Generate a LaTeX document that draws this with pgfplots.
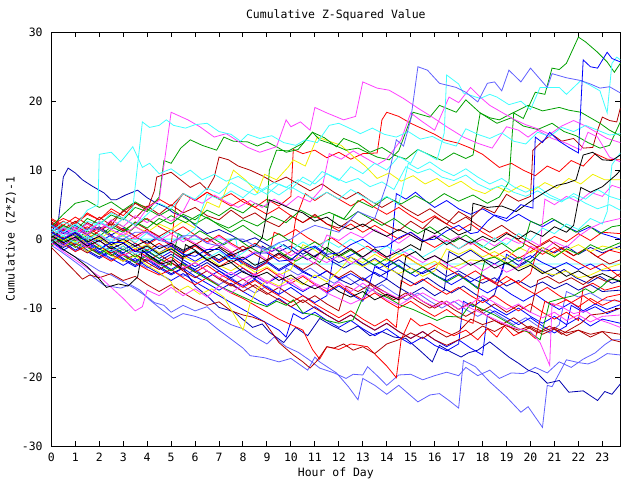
\documentclass[border=0pt]{standalone}
\usepackage{fontspec}
\setmainfont{DejaVu Sans Mono}
\usepackage{pgfplots}
\pgfplotsset{compat=1.18}
\definecolor{gR}{HTML}{FF0000}
\definecolor{gG}{HTML}{00A000}
\definecolor{gB}{HTML}{0000FF}
\definecolor{gM}{HTML}{FF40FF}
\definecolor{gC}{HTML}{40FFFF}
\definecolor{gD}{HTML}{B00000}
\definecolor{gY}{HTML}{F0F000}
\definecolor{gK}{HTML}{000000}
\definecolor{gN}{HTML}{0000B0}
\definecolor{gS}{HTML}{6060FF}
\newcommand{\gfont}{\fontsize{8.6}{10}\selectfont}
\begin{document}
\begin{tikzpicture}
\useasboundingbox (-38.5pt,-25.5pt) rectangle (441.5pt,334.5pt);
\begin{axis}[
  at={(0pt,0pt)}, anchor=south west,
  scale only axis, width=426.75pt, height=310.3pt,
  xmin=0, xmax=23.75, ymin=-30, ymax=30,
  xtick={0,1,...,23}, ytick={-30,-20,-10,0,10,20,30},
  yticklabels={-30,-20,-10,0,10,20,30},
  xtick pos=both, ytick pos=both,
  xticklabel pos=lower, yticklabel pos=left,
  tick align=inside, major tick length=3.75pt,
  axis line style={line width=0.75pt}, every tick/.style={black, line width=0.75pt},
  /pgf/number format/assume math mode=true,
  tick label style={font=\gfont},
  xticklabel style={anchor=center, yshift=-8.25pt},
  yticklabel style={anchor=east, xshift=-3pt},
  every axis title/.style={at={(0.5,1)}, anchor=center, yshift=12.6pt, font=\gfont},
  title={Cumulative Z-Squared Value},
  xlabel={Hour of Day},
  xlabel style={font=\gfont, at={(axis description cs:0.5,0)}, anchor=center, yshift=-20.3pt},
  ylabel={Cumulative (Z*Z)-1},
  every axis y label/.style={at={(axis description cs:-0.0708,0.5)}, anchor=center, rotate=90, font=\gfont},
  every axis plot/.append style={line width=0.6pt, mark=none},
]
% flat cyan
\addplot[gC] coordinates {(0,0) (7.7,0) (7.9,-3.6) (23.75,-3.6)};
% slate low SL1
\addplot[gS] coordinates {(0,-0.9) (0.4,-1.8) (0.8,-2.8) (1.3,-4.1) (1.75,-5.5) (2.2,-6.7) (2.9,-7.1) (3.3,-6.6) (3.7,-7.4) (4.1,-8.8) (4.6,-10.2) (5.1,-11.5) (5.5,-10.8) (6,-11.2) (6.5,-11.8) (7,-13.2) (7.5,-14.5) (8,-15.8) (8.3,-16.9) (8.9,-17.2) (9.5,-17.8) (10,-17.3) (10.7,-19) (11,-17.1) (11.2,-17.8) (11.9,-19.4) (12.4,-21.4) (12.8,-23.3) (13,-20.2) (13.5,-21.2) (14,-22.5) (14.5,-21.2) (15.3,-23.6) (15.8,-22.6) (16.2,-22.4) (16.6,-23.4) (17,-24.5) (17.2,-17.6) (17.7,-18.5) (18.3,-20.7) (19,-22.9) (19.6,-25.1) (19.9,-24.3) (20.5,-27.3) (20.7,-21.2) (20.9,-21.4) (21.5,-17.5) (22,-17.9) (22.4,-18.1) (22.7,-17.7) (23.2,-16.6) (23.75,-16.8)};
% slate SL2
\addplot[gS] coordinates {(0,-0.3) (0.5,-1.5) (1,-2.6) (1.5,-3.5) (2,-4.6) (2.5,-5.2) (3,-6.2) (3.5,-7.2) (4,-8.4) (4.3,-9.2) (4.7,-9.6) (5,-10.6) (5.5,-9.6) (6,-10.4) (6.5,-9.8) (7,-11.4) (7.5,-12.4) (8,-13) (8.5,-14.2) (9,-15.2) (9.3,-14.2) (9.8,-15.6) (10.3,-16.4) (10.8,-17.6) (11.2,-18.7) (11.8,-19.4) (12.3,-20.2) (12.6,-19.6) (13,-19.7) (13.2,-18.5) (13.6,-19.8) (14,-21.2) (14.5,-19.7) (15,-19.6) (15.5,-20.4) (16,-19.8) (16.5,-19.3) (17,-19.8) (17.3,-18.6) (17.8,-19.8) (18.3,-19) (18.7,-20.2) (19.2,-19.4) (19.7,-19.5) (20.2,-18.6) (20.7,-19.4) (21.2,-17.8) (21.7,-18.6) (22.2,-17.4) (22.7,-16.5) (23.1,-15.3) (23.4,-14.6) (23.75,-14.6)};
% slate SL3
\addplot[gS] coordinates {(0,0.6) (0.5,-0.6) (1,-1.8) (1.5,-0.8) (2,-2) (2.5,-3) (3,-2) (3.5,-3.2) (4,-4.2) (4.5,-3.2) (5,-4.4) (5.5,-5.4) (6,-4.4) (6.5,-5.6) (7,-6.6) (7.5,-5.6) (8,-6.8) (8.5,-7.8) (9,-6.8) (9.5,-8) (9.8,-4.2) (10.3,-5.2) (10.8,-4.2) (11.3,-5.4) (11.8,-6.4) (12.3,-5.4) (12.8,-6.6) (13.3,-7.6) (13.8,-6.6) (14.3,-7.8) (14.8,-8.8) (15.3,-7.8) (15.8,-9) (16.3,-10) (16.8,-9) (17.3,-10.2) (17.8,-11.2) (18.3,-10.2) (18.8,-11.4) (19.3,-12.4) (19.8,-11.4) (20.3,-12.6) (20.8,-13.6) (21.2,-12.4) (21.5,-7.6) (22,-8.4) (22.5,-7.8) (23,-8.8) (23.75,-9)};
% navy NB1
\addplot[gN] coordinates {(0,-0.3) (0.5,-1.2) (1,-0.4) (1.5,-1.6) (2,-2.6) (2.5,-1.6) (3,-2.8) (3.5,-3.8) (4,-2.8) (4.5,-4) (5,-5) (5.5,-4.2) (6,-6.8) (6.5,-8.2) (7,-9.9) (7.6,-10.5) (8.4,-12.8) (8.8,-12.3) (9.1,-13.5) (9.7,-15) (10.2,-12.8) (10.7,-14) (11.2,-11.5) (11.7,-12.5) (12.3,-13.5) (12.8,-12.6) (13.3,-14) (13.8,-13.4) (14.3,-14.2) (14.8,-14.4) (15.4,-16.2) (15.9,-17.8) (16.2,-15.4) (16.7,-16.4) (17.1,-17.1) (17.4,-16.5) (17.8,-16.1) (18.3,-14.9) (18.7,-16) (19.1,-17.1) (19.5,-18) (19.9,-19) (20.3,-19.5) (20.7,-20.9) (21.2,-20.5) (21.6,-22.2) (22.2,-22) (22.8,-23.4) (23.1,-22.1) (23.4,-22.5) (23.75,-21)};
% navy NB2
\addplot[gN] coordinates {(0,2.2) (0.5,1.2) (1,2) (1.5,0.8) (2,1.8) (2.5,0.6) (3,1.6) (3.5,0.4) (4,-0.6) (4.5,0.4) (5,-0.8) (5.5,-1.8) (6,-0.8) (6.5,-2) (7,-3) (7.5,-2) (8,-3.2) (8.5,-4.2) (9,-3.2) (9.5,-4.4) (10,-3.4) (10.5,-4.6) (11,-5.6) (11.5,-4.6) (12,-5.8) (12.5,-6.6) (13,-5.6) (13.5,-6.8) (14,-5.8) (14.5,-7) (15,-8) (15.5,-7) (16,-8.2) (16.4,-7.4) (16.6,-1.8) (17,-2.6) (17.5,-1.6) (18,-2.8) (18.5,-3.6) (19,-2.6) (19.5,-3.8) (20,-2.8) (20.5,-1.2) (21,-2) (21.5,-1) (22,-2.2) (22.5,-1.2) (23,-2) (23.75,-1)};
% navy NB3
\addplot[gN] coordinates {(0,0.2) (0.5,1.4) (1,0.4) (1.5,-0.8) (2,0.2) (2.5,-1) (3,-2) (3.5,-1) (4,-2.2) (4.5,-3.2) (5,-2.2) (5.5,-3.4) (6,-4.4) (6.5,-3.4) (7,-4.6) (7.5,-5.6) (8,-4.6) (8.5,-5.8) (8.8,-1) (9.2,-1.8) (9.7,-0.8) (10.2,-2) (10.7,-3) (11.2,-2) (11.7,-3.2) (12.2,-4.2) (12.7,-3.2) (13.2,-4.4) (13.7,-5.4) (14.2,-4.4) (14.7,-5.6) (15.2,-6.6) (15.7,-5.6) (16.2,-6.8) (16.7,-7.8) (17.2,-6.8) (17.7,-8) (18.2,-9) (18.5,-8) (18.9,-3.4) (19.4,-4.2) (19.9,-3.2) (20.4,-4.4) (20.9,-5.4) (21.4,-4.4) (21.9,-5.6) (22.4,-6.4) (22.9,-5.4) (23.4,-6.4) (23.75,-6)};
% navy B1 early high
\addplot[gN] coordinates {(0,1) (0.3,2.8) (0.5,9) (0.7,10.3) (1,9.6) (1.3,8.6) (1.7,7.7) (2.2,6.7) (2.5,5.7) (2.7,5.7) (3.1,6.4) (3.6,7.1) (4,6) (4.4,5.2) (4.8,4.6) (5.1,3.8) (5.6,3.2) (6,2) (6.5,0.8) (7,1.4) (7.5,0.6) (8,-0.4) (8.5,0.2) (9,-0.8) (9.5,-1.8) (10,-1) (10.5,-2.2) (11,-1.2) (11.5,-2.4) (12,-3.4) (12.5,-2.6) (13,-3.8) (13.5,-2.8) (14,-4) (14.5,-3) (15,-4.2) (15.5,-5) (16,-4.2) (16.5,-5.4) (17,-4.6) (17.5,-5.6) (18,-6.4) (18.5,-5.6) (19,-6.8) (19.5,-6) (20,-7) (20.5,-6.2) (21,-7.2) (21.5,-6.4) (22,-7.4) (22.5,-6.6) (23,-7.6) (23.75,-7.4)};
% blue B2
\addplot[gB] coordinates {(0,2) (0.5,0.8) (1,1.8) (1.5,0.6) (2,-0.4) (2.5,0.6) (3,-0.6) (3.5,-1.8) (4,-0.8) (4.5,-2) (5,-1) (5.5,-2.2) (6,-3.2) (6.5,-2.2) (7,-3.4) (7.5,-2.4) (8,-3.6) (8.5,-4.4) (9,-3.4) (9.5,-4.6) (10,-3.6) (10.5,-4.8) (11,-5.6) (11.5,-4.6) (12,-5.8) (12.5,-5) (13,-6) (13.5,-4.8) (14,-5.8) (14.2,-1) (14.4,6.6) (14.8,5.8) (15.2,6.8) (15.6,5.6) (16,4.6) (16.5,5.6) (17,4.4) (17.5,3.6) (18,4.4) (18.5,3.4) (19,2.6) (19.5,3.6) (20,2.6) (20.5,1.8) (21,2.8) (21.5,1.8) (22,1) (22.5,1.8) (23,0.8) (23.75,0)};
% blue B3
\addplot[gB] coordinates {(0,1.2) (0.5,0) (1,1) (1.5,-0.2) (2,-1.4) (2.5,-0.4) (3,-1.6) (3.5,-0.6) (4,-1.8) (4.5,-2.8) (5,-1.8) (5.5,-3) (6,-4) (6.5,-3) (7,-4.2) (7.5,-5.2) (8,-4.2) (8.5,-5.4) (9,-6.4) (9.5,-5.4) (10,-6.6) (10.5,-7.6) (11,-6.6) (11.5,-7.8) (12,-6.8) (12.5,-8) (13,-9) (13.2,-7.4) (13.5,-4) (14,-4.8) (14.5,-3.8) (15,-5) (15.5,-4) (16,-5.2) (16.5,-6) (17,-5) (17.5,-6.2) (18,-5.2) (18.5,-6.4) (18.8,-5) (19,-2.2) (19.5,-3.2) (20,-2.4) (20.5,-3.4) (21,-4.2) (21.5,-3.4) (22,-4.4) (22.5,-3.6) (23,-4.6) (23.75,-4.5)};
% blue B4
\addplot[gB] coordinates {(0,0.5) (0.5,-0.8) (1,0.2) (1.5,-1) (2,-2) (2.5,-1) (3,-2.2) (3.5,-3.2) (4,-2.2) (4.5,-3.4) (5,-4.4) (5.5,-3.4) (6,-4.6) (6.5,-5.6) (7,-4.6) (7.5,-5.8) (8,-6.8) (8.5,-5.8) (9,-7) (9.5,-8) (10,-7) (10.5,-8.2) (11,-9.2) (11.5,-8.2) (11.8,-2) (12.2,-2.8) (12.7,-2) (13.2,-3.2) (13.7,-4.2) (14.2,-3.2) (14.7,-4.4) (15.2,-5.4) (15.7,-4.4) (16.2,-5.6) (16.7,-6.6) (17.2,-5.6) (17.7,-6.8) (18.2,-7.8) (18.7,-6.8) (19.2,-8) (19.7,-9) (20.2,-8) (20.7,-9.2) (21.2,-10.2) (21.7,-9.2) (22.2,-10.4) (22.7,-9.4) (23.2,-10.2) (23.75,-9.5)};
% blue B5
\addplot[gB] coordinates {(0,-0.4) (0.5,-1.6) (1,-0.6) (1.5,-1.8) (2,-2.8) (2.5,-1.8) (3,-3) (3.5,-4) (4,-3) (4.5,-4.2) (5,-5.2) (5.5,-4.2) (6,-5.4) (6.5,-6.4) (7,-7.4) (7.5,-6.4) (8,-7.6) (8.5,-8.6) (9,-9.6) (9.5,-8.6) (10,-9.8) (10.5,-10.8) (11,-9.8) (11.5,-11) (12,-12) (12.5,-11) (13,-12.2) (13.5,-13.2) (14,-12.2) (14.5,-13.4) (15,-14.4) (15.5,-13.4) (16,-14.6) (16.5,-15.6) (17,-14.6) (17.5,-15.8) (18,-16.8) (18.2,-11) (18.5,-10.4) (19,-11.4) (19.5,-12.4) (20,-11.4) (20.5,-12.6) (21,-13.6) (21.5,-12.6) (21.7,-9.6) (22.2,-10.6) (22.7,-9.8) (23.2,-10.8) (23.75,-10)};
% blue B6
\addplot[gB] coordinates {(0,0.8) (0.5,-0.4) (1,-1.6) (1.5,-0.6) (2,-1.8) (2.5,-2.8) (3,-3.8) (3.5,-2.8) (4,-4) (4.5,-5) (5,-6) (5.5,-5) (6,-6.2) (6.5,-7.2) (7,-8.2) (7.5,-9.2) (8,-10.2) (8.5,-11.2) (9,-12.2) (9.5,-13.2) (9.8,-14.2) (10.1,-10.8) (10.5,-11.6) (11,-10.6) (11.5,-11.8) (12,-12.8) (12.5,-11.8) (13,-13) (13.5,-14) (14,-13) (14.5,-14.2) (15,-15.2) (15.5,-14.2) (16,-15.4) (16.5,-16.2) (17,-15.2) (17.2,-9) (17.6,-9.8) (18,-8.8) (18.5,-10) (19,-11) (19.5,-10) (20,-11.2) (20.5,-12.2) (21,-11.2) (21.5,-12.4) (22,-11.4) (22.5,-12.6) (23,-11.6) (23.75,-12.2)};
% reds
\addplot[gR] coordinates {(0,2) (0.5,3) (1,2.2) (1.5,3.6) (2,2.8) (2.5,4.4) (3,3.4) (3.5,5.2) (4,4.6) (4.5,5.8) (5,4.8) (5.5,6.6) (6,5.6) (6.5,6.8) (7,5.8) (7.5,6.6) (8,5.4) (8.5,4.6) (9,5.8) (9.5,4.8) (10,6.2) (10.1,13) (10.5,12.4) (11,12.9) (11.5,11.8) (12,12.6) (12.5,11.6) (13,12.4) (13.6,12.5) (13.8,17.3) (14,18.4) (14.5,17.8) (15,16.8) (15.5,16) (16,15.2) (16.4,14.4) (17,13.9) (17.5,13.2) (18,12.3) (18.7,10.4) (19.2,11) (19.7,10) (20.2,9.2) (20.7,10.6) (21.2,9.8) (21.7,11.4) (22.2,10.6) (22.7,12.4) (23.2,11.6) (23.75,11.5)};
\addplot[gR] coordinates {(0,3) (0.5,2) (1,3.2) (1.5,2.2) (2,1.2) (2.5,2.4) (3,1.4) (3.5,0.4) (4,1.4) (4.5,0.2) (5,-0.8) (5.2,5) (5.5,6.6) (6,5.6) (6.5,6.8) (7,5.8) (7.5,4.8) (8,5.8) (8.5,4.6) (9,3.6) (9.5,4.6) (10,3.4) (10.5,2.4) (11,3.4) (11.5,2.2) (12,1.2) (12.5,2.2) (13,1) (13.5,2) (14,1) (14.5,0) (15,1) (15.5,-0.2) (16,-1.2) (16.5,-0.2) (17,-1.4) (17.5,-0.4) (18,-1.6) (18.5,-2.6) (19,-1.6) (19.5,-2.8) (20,-1.8) (20.5,-0.6) (21,0.4) (21.5,-0.4) (22,0.8) (22.5,-0.2) (23,1) (23.75,0.8)};
\addplot[gR] coordinates {(0,2.8) (0.5,1.8) (1,0.8) (1.5,1.8) (2,0.6) (2.5,-0.4) (3,0.6) (3.5,-0.6) (4,-1.6) (4.5,-0.6) (5,-1.8) (5.5,-2.8) (6,-1.8) (6.5,-3) (7,-4) (7.5,-3) (8,-4.2) (8.5,-5.2) (9,-4.2) (9.5,-5.4) (10,-6.4) (10.5,-5.4) (11,-6.6) (11.5,-7.6) (12,-6.6) (12.5,-7.8) (13,-8.8) (13.5,-7.8) (14,-9) (14.5,-10) (15,-9) (15.5,-10.2) (16,-11.2) (16.5,-10.2) (17,-11.4) (17.6,-12.2) (17.9,-6) (18.2,-5.6) (18.6,-6.4) (19,-5.4) (19.5,-6.4) (20,-5) (20.3,-1.4) (20.8,-2.2) (21.3,-1.2) (21.8,-2.4) (22.3,-1.4) (22.8,-2.6) (23.3,-1.6) (23.75,-2)};
\addplot[gR] coordinates {(0,0.4) (0.5,-0.6) (1,-1.8) (1.5,-1) (2,-2.2) (2.5,-3.2) (3,-2.2) (3.5,-3.4) (4,-4.4) (4.5,-5.2) (5,-4.4) (5.5,-5.6) (6,-6.6) (6.5,-5.6) (7,-6.8) (7.5,-7.8) (8,-8.6) (8.5,-9.6) (9,-10.6) (9.5,-11.6) (10,-12.4) (10.5,-13.2) (10.9,-16) (11.2,-17.4) (11.5,-15.6) (12,-16) (12.5,-15.2) (13.2,-15.6) (13.6,-17) (14,-18.4) (14.4,-20.1) (14.6,-14.6) (15,-11.5) (15.4,-12.6) (15.8,-12.2) (16.3,-13.2) (16.8,-14) (17.3,-13.2) (17.8,-14.6) (18.2,-13) (18.6,-14.2) (18.9,-12.6) (19.3,-14) (19.8,-13.2) (20.2,-14.4) (20.6,-9) (21,-9.6) (21.5,-8.8) (22,-9.8) (22.5,-8.6) (23,-9.6) (23.5,-8.8) (23.75,-9.1)};
\addplot[gR] coordinates {(0,1.6) (0.5,2.6) (1,1.6) (1.5,0.6) (2,1.6) (2.5,0.4) (3,-0.6) (3.5,0.4) (4,-0.8) (4.5,0.2) (5,-1) (5.5,-2) (6,-1) (6.5,-2.2) (7,-3.2) (7.5,-2.2) (8,-3.4) (8.5,-4.4) (9,-3.4) (9.3,1) (9.7,0.4) (10.2,1.4) (10.7,0.2) (11.2,-0.8) (11.7,0.2) (12.2,-1) (12.7,-2) (13.2,-1) (13.7,-2.2) (14.2,-3.2) (14.7,-2.2) (15.2,-3.4) (15.7,-4.4) (16.2,-3.4) (16.7,-4.6) (17.2,-5.6) (17.7,-4.6) (18.2,-5.8) (18.7,-6.8) (19.2,-5.8) (19.7,-7) (20.2,-8) (20.7,-7) (21.2,-8.2) (21.7,-9.2) (22.2,-8.2) (22.7,-9.4) (23.2,-8.4) (23.75,-8)};
\addplot[gR] coordinates {(0,2.4) (0.5,1.2) (1,2.4) (1.5,3.8) (2,2.8) (2.5,4) (3,3) (3.5,2) (4,3) (4.5,1.8) (5,0.8) (5.5,1.8) (6,0.6) (6.5,-0.4) (7,0.6) (7.5,-0.6) (8,-1.6) (8.5,-0.6) (9,-1.8) (9.5,-2.8) (10,-1.8) (10.2,3) (10.6,6.6) (11,5.6) (11.5,6.8) (12,5.8) (12.5,4.8) (13,5.8) (13.5,4.6) (14,3.6) (14.5,4.6) (15,3.4) (15.5,2.4) (16,3.4) (16.5,2.2) (17,1.2) (17.5,2.2) (18,1) (18.5,0) (19,1) (19.5,-0.2) (20,-1.2) (20.5,-2.2) (21,-1.2) (21.5,-2.4) (22,-3.4) (22.5,-4.4) (23,-3.6) (23.75,-5.5)};
\addplot[gR] coordinates {(0,0) (0.5,1) (1,0) (1.5,-1.2) (2,-0.2) (2.5,-1.4) (3,-2.4) (3.5,-1.4) (4,-2.6) (4.5,-3.6) (5,-2.6) (5.5,-3.8) (6,-4.8) (6.5,-3.8) (7,-5) (7.5,-6) (8,-7) (8.5,-6) (9,-7.2) (9.5,-8.2) (10,-9.2) (10.5,-8.2) (11,-9.4) (11.5,-10.4) (12,-11.4) (12.5,-10.4) (13,-11.6) (13.5,-12.6) (14,-11.6) (14.4,-12.8) (14.6,-6) (15,-6.8) (15.5,-5.8) (16,-7) (16.5,-8) (17,-7) (17.5,-8.2) (18,-9.2) (18.5,-8.2) (19,-9.4) (19.5,-10.4) (20,-9.4) (20.5,-10.6) (21,-11.6) (21.5,-10.6) (22,-11.8) (22.2,-7) (22.6,-6.4) (23.1,-7.4) (23.75,-6.8)};
% dark reds
\addplot[gD] coordinates {(0,2.5) (0.5,1.5) (1,2.6) (1.5,1.4) (2,3.2) (2.5,2) (3,4.2) (3.5,3) (4,4.8) (4.5,3.6) (5,5) (5.5,3.8) (6,4.6) (6.5,3.4) (7,2.8) (7.5,4.2) (8,3) (8.5,3.8) (9,2.6) (9.5,1.8) (10,3.4) (10.5,2.4) (11,3.6) (11.5,2.2) (12,1.6) (12.5,2.8) (13,1.8) (13.5,3) (14,2) (14.5,1.2) (15,2.6) (15.5,1.5) (16,3.2) (16.5,2.2) (17,4) (17.5,3) (18,4.6) (18.5,3.8) (19,6.5) (19.5,5.5) (20,6.2) (20.1,12.9) (20.5,14.2) (20.9,15.2) (21.3,14.2) (21.8,14.6) (22.2,13.2) (22.6,13.3) (22.8,15.8) (23,17.7) (23.3,17.2) (23.6,17) (23.75,19)};
\addplot[gD] coordinates {(0,-1.2) (0.4,-2.6) (0.8,-4) (1.3,-5.8) (1.6,-5.2) (2,-5.6) (2.5,-5) (3,-6) (3.5,-5.4) (4,-6.6) (4.5,-7.6) (5,-6.6) (5.5,-7.8) (6,-8.8) (6.5,-9.6) (7,-9.1) (7.5,-10.4) (8,-11) (8.4,-11.3) (8.9,-12) (9.5,-15) (10.1,-16.8) (10.5,-17.8) (10.8,-18.7) (11.1,-17.6) (11.5,-15.6) (11.8,-15.8) (12.2,-15.2) (12.6,-16.1) (13,-15.6) (13.5,-16.6) (14,-15.2) (14.5,-14.6) (15,-13.6) (15.5,-14.4) (16,-13.2) (16.5,-14.2) (17,-13.4) (17.5,-11.6) (18,-12.4) (18.5,-11.8) (19,-12.6) (19.5,-13.2) (20,-12.6) (20.5,-13.4) (21,-12.8) (21.5,-13.6) (22,-13.2) (22.5,-13.8) (23,-13.4) (23.4,-14.6) (23.75,-14.9)};
\addplot[gD] coordinates {(0,0.8) (0.5,-0.2) (1,1) (1.5,0) (2,1.2) (2.5,2.2) (3,1.2) (3.5,2.4) (4,1.4) (4.5,0.4) (5,1.4) (5.5,0.2) (6,-0.8) (6.5,0.2) (7,-1) (7.5,-2) (8,-1) (8.5,-2.2) (9,-3.2) (9.5,-2.2) (10,-3.4) (10.5,-4.4) (11,-3.4) (11.5,-4.6) (12,-5.6) (12.5,-4.6) (13,-5.8) (13.5,-6.8) (14,-7.8) (14.5,-8.8) (15,-7.8) (15.5,-9) (16,-10) (16.5,-9) (17,-10.2) (17.5,-9.2) (18,-10.4) (18.5,-9.4) (19,-10.6) (19.5,-9.6) (20,-10.6) (20.3,-6) (20.7,-5.4) (21.2,-6.4) (21.7,-5.6) (22.2,-6.6) (22.7,-5.4) (23.2,-6.2) (23.75,-5)};
\addplot[gD] coordinates {(0,1) (0.5,2) (1,1) (1.5,2.4) (2,1.4) (2.5,2.6) (3,4) (3.5,5.2) (4,4.2) (4.3,7) (4.4,9) (5,9.7) (5.4,8.6) (5.8,7.5) (6.2,8.2) (6.5,7.2) (6.8,9) (7,11.9) (7.4,11.5) (7.8,10.6) (8.3,10) (8.8,9.2) (9.3,8.2) (9.8,9) (10.3,8) (10.8,7) (11.3,8) (11.8,6.8) (12.3,5.8) (12.8,6.8) (13.3,5.6) (13.8,4.6) (14.3,5.6) (14.8,4.4) (15.3,3.4) (15.8,4.4) (16.3,3.2) (16.8,2.2) (17.3,3.2) (17.8,2) (18.3,1) (18.8,2) (19.3,0.8) (19.8,-0.2) (20.3,-1.2) (20.8,-0.2) (21.3,-1.4) (21.8,-2.4) (22.3,-1.4) (22.8,-2.6) (23.3,-3.6) (23.75,-3)};
\addplot[gD] coordinates {(0,-0.8) (0.5,0.2) (1,-1) (1.5,-2) (2,-1) (2.5,-2.2) (3,-3.2) (3.5,-2.2) (4,-3.4) (4.5,-4.4) (5,-3.4) (5.5,-4.6) (6,-5.6) (6.5,-4.6) (7,-5.8) (7.5,-6.8) (8,-5.8) (8.5,-7) (9,-8) (9.5,-7) (10,-8.2) (10.5,-9.2) (11,-8.2) (11.5,-9.4) (12,-10.4) (12.3,-6.8) (12.8,-7.6) (13.3,-6.6) (13.8,-7.8) (14.3,-8.8) (14.8,-7.8) (15.3,-9) (15.8,-10) (16.3,-9) (16.8,-10.2) (17.3,-11.2) (17.8,-10.2) (18.3,-11.4) (18.8,-12.4) (19.3,-11.4) (19.8,-12.6) (20.3,-13.6) (20.8,-12.6) (21.3,-13.8) (21.8,-12.8) (22.1,-12.2) (22.5,-11) (23,-10.8) (23.75,-10)};
\addplot[gD] coordinates {(0,1.2) (0.5,0.2) (1,-0.8) (1.5,0.2) (2,-1) (2.5,-2) (3,-1) (3.5,-2.2) (4,-3.2) (4.5,-2.2) (5,-3.4) (5.5,-4.4) (6,-3.4) (6.5,-4.6) (7,-5.6) (7.5,-6.6) (8,-7.6) (8.5,-6.6) (9,-7.8) (9.5,-8.8) (10,-9.8) (10.5,-8.8) (11,-10) (11.5,-11) (12,-12) (12.5,-11) (13,-12.2) (13.5,-13.2) (14,-12.2) (14.5,-13.4) (15,-14.4) (15.5,-13.4) (16,-14.6) (16.5,-15.4) (17,-14.6) (17.5,-13.8) (18,-12.6) (18.5,-13.4) (19,-12.4) (19.5,-13.6) (20,-12.8) (20.5,-13.8) (21,-13) (21.5,-14) (22,-13.2) (22.5,-14.2) (23,-13.4) (23.75,-13.8)};
% yellows
\addplot[gY] coordinates {(0,-0.5) (0.5,0.5) (1,-0.4) (1.5,0.8) (2,0) (2.5,1.2) (3,0.4) (3.5,1.8) (4,1) (4.5,2.2) (5,1.4) (5.5,2.6) (6,1.6) (6.5,5.4) (7,4.6) (7.6,10) (8.1,8.6) (8.6,6.7) (8.9,9.4) (9.4,8.6) (9.9,10.5) (10.1,11.5) (10.6,10.6) (11.1,14.8) (11.6,14.2) (12.1,13.6) (12.6,12) (13.1,10.6) (13.6,8.8) (14.1,9.6) (14.6,8.4) (15.1,9.2) (15.6,8) (16.1,8.8) (16.6,7.6) (17.1,8.4) (17.6,7.2) (18.1,6.6) (18.6,7.6) (19.1,6.8) (19.6,7.8) (20.1,7) (20.6,8.2) (21.1,7.4) (21.6,8.8) (22.1,8) (22.6,9.4) (23.1,8.6) (23.75,8.6)};
\addplot[gY] coordinates {(0,0) (0.5,-1) (1,-0.4) (1.5,-1.8) (2,-1) (2.5,-2.4) (3,-3.2) (3.5,-2.4) (4,-3.8) (4.5,-4.8) (5,-6.2) (5.2,-7.7) (5.7,-6.8) (6.2,-8) (6.7,-7.2) (7.2,-8.4) (7.6,-10.8) (8,-13.2) (8.3,-9.3) (8.6,-7.2) (9,-6) (9.5,-6.8) (10,-5.6) (10.5,-6.6) (11,-5.2) (11.5,-6.2) (12,-4.6) (12.5,-2.6) (13,-3.4) (13.5,-2.2) (14,-3.2) (14.5,-2) (15,-3) (15.5,-4) (16,-3.2) (16.5,-4.4) (17,-3.8) (17.5,-3) (18,-3.2) (18.5,-2.4) (19,-3.4) (19.5,-4.2) (20,-3.6) (20.5,-4.8) (21,-5.2) (21.5,-4.6) (22,-5.6) (22.5,-5.2) (23,-4.4) (23.75,-3.6)};
\addplot[gY] coordinates {(0,0.8) (0.5,-0.2) (1,0.6) (1.5,-0.6) (2,0.2) (2.5,-1) (3,-0.2) (3.5,-1.4) (4,-0.8) (4.5,-2) (5,-1.2) (5.5,-2.6) (6,-3.4) (6.5,-2.6) (7,-3.8) (7.5,-4.6) (8,-3.6) (8.5,-4.8) (9,-4) (9.5,-5.2) (10,-4.4) (10.5,-0.8) (11,-1.6) (11.5,-2.8) (12,-2) (12.5,-3.2) (13,-4) (13.5,-3) (14,-4.2) (14.5,-5) (15,-4.2) (15.5,-5.4) (16,-4.6) (16.5,-1.4) (17,-2.2) (17.5,-1.4) (18,-2.6) (18.5,-1.8) (19,-2.8) (19.5,-1.2) (20,-2) (20.5,-1.2) (21,-2.4) (21.5,-1.6) (22,-0.8) (22.5,-1.8) (23,-1) (23.75,-1.5)};
% greens
\addplot[gG] coordinates {(0,0.2) (0.5,-1) (1,0) (1.5,-1.2) (2,-2.2) (2.5,-1.2) (3,-2.4) (3.5,-3.4) (4,-2.4) (4.5,-3.6) (5,-4.6) (5.5,-3.6) (6,-4.8) (6.5,-5.8) (7,-6.8) (7.5,-7.6) (8,-8.4) (8.5,-9.2) (9,-9.8) (9.4,-9) (9.8,-9.6) (10.1,-8.8) (10.5,-10.7) (11,-11) (11.5,-11.8) (12,-12.2) (12.6,-11.7) (13.2,-6.9) (13.6,-7.8) (14.1,-8.6) (14.6,-9.6) (15.1,-10.2) (15.6,-11) (16.1,-11.8) (16.5,-11.2) (17.1,-11.3) (17.5,-9.4) (18,-10.2) (18.5,-11) (19,-12) (19.5,-13) (20,-13.6) (20.4,-14.6) (20.8,-9.1) (21.3,-8.6) (21.8,-8.2) (22.3,-7.2) (22.6,-7.8) (23,-6.8) (23.3,-5.8) (23.75,-6)};
\addplot[gG] coordinates {(0,1.8) (0.5,3.6) (1,5.2) (1.5,5.6) (2,4.6) (2.5,5.4) (3,4.2) (3.5,5.4) (4,4.4) (4.5,3.4) (5,4.4) (5.5,3.2) (6,2.2) (6.5,3.2) (7,2) (7.5,1) (8,2) (8.5,0.8) (9,-0.2) (9.5,0.8) (10,-0.4) (10.5,-1.4) (11,-0.4) (11.5,-1.6) (12,-2.6) (12.5,-1.6) (13,-2.8) (13.5,-3.8) (14,-2.8) (14.5,-4) (15,-5) (15.5,-4) (16,-5.2) (16.5,-6.2) (17,-5.2) (17.5,-6.4) (17.8,-7.2) (18.1,-3) (18.5,-2.6) (19,-3.6) (19.5,-2.6) (20,-3.4) (20.5,-1.6) (21,-2.6) (21.5,-1.4) (22,-2.2) (22.5,-0.8) (23,-1.6) (23.75,-0.5)};
\addplot[gG] coordinates {(0,-1) (0.5,0) (1,-1.2) (1.5,-0.2) (2,-1.4) (2.5,-2.4) (3,-1.4) (3.5,-2.6) (4,-1.6) (4.5,-2.8) (5,-3.8) (5.3,0.8) (5.7,0) (6.2,1.2) (6.7,0.2) (7.2,-0.8) (7.7,0.2) (8.2,-1) (8.7,-2) (9.2,-1) (9.7,-2.2) (10.2,-3.2) (10.7,-2.2) (11.2,-3.4) (11.5,-2) (11.8,3.6) (12.3,2.8) (12.8,4) (13.3,3) (13.8,2) (14.3,3) (14.8,1.8) (15.3,0.8) (15.8,1.8) (16.3,0.6) (16.8,-0.4) (17.3,0.6) (17.8,-0.6) (18.3,-1.6) (18.8,-0.6) (19.3,-1.8) (19.7,-1) (20,2.6) (20.4,2) (20.9,3) (21.4,2) (21.9,1) (22.4,2) (22.9,0.8) (23.4,1.8) (23.75,2)};
\addplot[gG] coordinates {(0,-0.5) (0.5,0.5) (1,-0.2) (1.5,1.2) (2,0.4) (2.5,1.8) (3,1) (3.5,2.5) (4,1.6) (4.5,3) (5,2.2) (5.5,3.6) (6,2.8) (6.5,4.2) (7,3.4) (7.5,4.6) (8,3.8) (8.5,5.2) (9,4.6) (9.1,10) (9.4,12.9) (9.9,12.8) (10.5,13.9) (10.9,15.5) (11.4,14.7) (11.9,13.4) (12.2,14.6) (12.8,13.8) (13.3,12.6) (13.8,13.3) (14.3,12.2) (14.8,11.6) (15.3,13) (15.8,12.2) (16.3,11.4) (16.8,12.5) (17.3,11.7) (17.6,12.2) (17.9,18.3) (18.3,17.6) (18.7,17.3) (19.2,18.2) (19.9,19.4) (20.5,18.6) (21.2,19.1) (21.6,18.7) (22.1,18.4) (22.5,17.6) (22.9,16.8) (23.3,15.8) (23.75,15)};
\addplot[gG] coordinates {(0,0) (0.5,2) (1,1.2) (1.5,3) (2,2.2) (2.5,3.5) (3,2.8) (3.5,4.6) (4,4) (4.5,6.1) (4.7,11.4) (5,11) (5.4,13.2) (5.8,14.4) (6.3,13.6) (6.9,12.9) (7.2,14.8) (7.6,14.2) (8.2,14.1) (8.6,13.5) (9,14.1) (9.4,13.4) (9.8,12.6) (10.3,13) (10.9,15.5) (11.2,14.4) (11.7,13.8) (12.3,12.9) (12.8,13.2) (13.6,11.9) (14.1,11.5) (14.5,12.8) (15.1,18.4) (15.8,17.7) (16.2,19.4) (16.9,18.4) (17.3,20.2) (17.9,18.3) (18.6,16.8) (19.2,17.6) (19.7,16.4) (20.3,15.9) (20.9,16.8) (21.4,15.6) (21.9,15) (22.4,14) (22.9,13.2) (23.3,13.6) (23.75,17)};
\addplot[gG] coordinates {(0,0.5) (0.4,-0.3) (0.8,0.8) (1.3,0) (1.8,1.6) (2.3,0.9) (2.8,2.2) (3.3,1.2) (3.9,3) (4.4,2.1) (5,3.4) (5.6,2.4) (6.2,3.6) (6.8,2.5) (7.4,1.6) (8,2.8) (8.6,1.9) (9.2,3.3) (9.8,2.4) (10.4,4.2) (11,3.1) (11.6,3.9) (12.2,2.9) (12.8,5.6) (13.4,4.6) (14,6.1) (14.6,5.1) (15.2,6.3) (15.8,5.2) (16.4,6.6) (17,5.5) (17.6,6.4) (18.2,5.2) (18.7,6.1) (19.1,8.3) (19.3,18.3) (19.7,17.5) (20.2,21.3) (20.6,21) (20.9,24.8) (21.2,24.6) (21.5,25.5) (22,29.3) (22.3,28.6) (22.8,27.1) (23.2,25.7) (23.5,24.2) (23.75,25.5)};
% magentas
\addplot[gM] coordinates {(0,1) (0.5,0) (1,1.5) (1.5,0.5) (2,2.5) (2.5,1.5) (3,3) (3.5,2) (4,4.5) (4.5,5.6) (5,18.4) (5.7,17.3) (6.2,16.3) (6.8,14.8) (7.3,15.3) (7.7,14.4) (8.2,13.3) (8.7,12.6) (9.4,13.4) (9.8,17.3) (10,16.3) (10.4,17) (10.8,15.8) (11,19.1) (11.5,18.3) (12.2,17.3) (12.7,17.8) (13,22.8) (13.6,21.9) (14.1,21.6) (14.7,20.4) (15.3,19) (15.9,17.7) (16.5,16.3) (17.2,14.8) (17.8,13.9) (18.4,13.2) (19,16.3) (19.5,15.8) (19.9,14.8) (20.3,15.8) (20.9,14.6) (21.5,13.9) (22.1,12.9) (22.4,15.5) (22.8,14.8) (23.3,11.9) (23.75,11.2)};
\addplot[gM] coordinates {(0,0) (0.5,-1) (1,0.2) (1.5,-0.8) (2,0.6) (2.5,-0.4) (3,1) (3.5,0) (4,1.2) (4.5,0.2) (5,-0.8) (5.5,0.4) (6,-0.6) (6.5,-1.6) (7,-0.6) (7.5,-1.8) (8,-2.8) (8.5,-1.8) (9,-3) (9.5,-2) (10,-3.2) (10.5,-2.4) (11,-3.6) (11.5,0.6) (12,-0.2) (12.5,1) (13,0.2) (13.5,1.4) (14,0.4) (14.5,-0.6) (15,0.6) (15.5,-0.4) (16,0.6) (16.5,-0.4) (17,0.4) (17.5,-0.8) (18,0) (18.5,-1) (19,0.2) (19.5,-0.6) (20,-0.2) (20.4,-1) (20.6,5.8) (21,5) (21.5,6.2) (22,5.4) (22.5,6.8) (23,6.2) (23.4,7.8) (23.75,7.4)};
\addplot[gM] coordinates {(0,-0.5) (0.5,-1.8) (1,-3) (1.5,-4.2) (2,-5.4) (2.5,-7) (3,-8.6) (3.5,-10.4) (3.8,-9.8) (4,-7.4) (4.5,-8.2) (5,-7) (5.5,-8.2) (6,-7.2) (6.5,-8.4) (7,-6.8) (7.5,-7.8) (8,-6.6) (8.5,-5.2) (9,-6.4) (9.5,-5) (10,-6) (10.5,-5.2) (11,-6.4) (11.5,-7.2) (12,-6.2) (12.5,-7.6) (13,-6.4) (13.5,-7.6) (14,-8.8) (14.5,-9.6) (15,-8.6) (15.5,-7.8) (16,-8.8) (16.5,-9.6) (17,-8.8) (17.5,-10) (18,-10.8) (18.5,-11.6) (19,-12.4) (19.5,-13) (20,-13.4) (20.4,-15) (20.8,-18.3) (20.9,-9.3) (21.3,-9.8) (21.8,-10.8) (22.3,-10.4) (22.8,-11.6) (23.3,-12.2) (23.75,-12.8)};
\addplot[gM] coordinates {(0,1.5) (0.5,0.5) (1,1.8) (1.5,0.8) (2,2.4) (2.5,1.4) (3,0.6) (3.5,1.8) (4,0.8) (4.5,-0.2) (5,0.8) (5.5,-0.4) (6,0.6) (6.5,-0.6) (7,0.4) (7.5,-0.8) (8,-1.8) (8.5,-0.8) (9,-2) (9.5,-1.2) (10,-2.4) (10.5,-1.4) (11,-2.6) (11.5,-3.4) (12,-2.4) (12.5,-3.6) (13,-2.6) (13.5,-1.6) (14,-2.6) (14.5,-1.4) (15,-2.4) (15.5,-3.4) (16,-2.4) (16.5,-3.6) (17,-4.4) (17.5,-3.4) (18,-4.6) (18.5,-3.6) (19,-4.8) (19.5,-4) (20,-1) (20.5,-1.8) (21,-0.4) (21.5,-1.2) (22,0.4) (22.5,1.6) (23,2.4) (23.75,3)};
\addplot[gM] coordinates {(0,0.5) (0.5,1.6) (1,0.8) (1.5,2.2) (2,1.2) (2.5,2.8) (3,1.8) (3.5,3.4) (4,2.4) (4.5,3.6) (5,2.6) (5.5,4) (5.8,6) (6.3,5.2) (6.8,6.4) (7.3,5.4) (7.8,4.6) (8.3,5.6) (8.8,4.6) (9.3,5.8) (9.8,4.8) (10.3,6.2) (10.8,5.4) (11.3,7.4) (11.6,12.4) (12.1,11.6) (12.6,12.8) (13.1,11.8) (13.6,10.8) (14,11.6) (14.6,14.4) (15,18.3) (15.5,17) (16,15.8) (16.6,20.6) (17,19.8) (17.5,22) (17.9,20.6) (18.3,19.4) (18.8,18.4) (19.3,17.4) (19.8,16.6) (20.3,16) (20.8,15.2) (21.3,16.4) (21.8,17.2) (22.3,16.4) (22.8,15.4) (23.2,14.6) (23.75,14)};
\addplot[gM] coordinates {(0,0) (0.5,1) (1,0) (1.5,-1.2) (2,-0.2) (2.5,-1.4) (3,-2.4) (3.5,-1.6) (4,-2.8) (4.5,-3.8) (5,-3) (5.5,-4.2) (6,-3.4) (6.5,-4.6) (7,-5.6) (7.5,-4.8) (8,-5.8) (8.5,-5) (9,-6.2) (9.5,-7) (10,-6.2) (10.5,-7.4) (11,-6.6) (11.5,-7.8) (12,-8.6) (12.5,-9.4) (13,-8.6) (13.5,-7) (14,-7.8) (14.5,-8.6) (15,-7.8) (15.5,-9) (16,-9.8) (16.5,-9) (17,-10.2) (17.5,-9.4) (18,-8.2) (18.5,-9.2) (19,-10.2) (19.5,-9.4) (20,-10.6) (20.5,-11.4) (21,-10.6) (21.5,-11.8) (22,-11) (22.5,-12) (23,-11.2) (23.75,-11)};
% cyans
\addplot[gC] coordinates {(0,0.5) (0.5,1.8) (1,1) (1.5,2.6) (2,2) (2.5,3.8) (3,3) (3.4,4.5) (3.8,17) (4.1,16.2) (4.5,16.5) (4.8,17.3) (5.1,16.5) (5.6,16.1) (6,16.6) (6.5,16.8) (7,15.6) (7.5,15.2) (7.9,14.2) (8.2,15.2) (8.7,14.6) (9.2,15) (9.7,14) (10.2,13.6) (10.6,14.4) (11.1,14) (11.6,16.5) (12,16.8) (12.5,16) (12.9,15.3) (13.4,16.1) (13.9,15.2) (14.4,14.8) (14.9,15.6) (15.4,14.5) (15.9,14.9) (16.4,14) (16.9,13.5) (17.3,16) (17.8,15.2) (18.3,14.6) (18.8,15.4) (19.3,14.2) (19.8,13.8) (20.3,15.5) (20.8,14.9) (21.3,16.2) (21.8,15.6) (22.3,16.5) (22.8,15.8) (23.3,15.1) (23.75,15.3)};
\addplot[gC] coordinates {(0,1) (0.5,2.5) (1,1.8) (1.5,4.2) (1.95,5) (2,12.3) (2.5,12.6) (2.9,11.2) (3.4,13.4) (3.8,10.4) (4.1,11) (4.5,9.5) (5,10.2) (5.4,9.2) (5.8,10) (6.3,8.6) (6.8,9.4) (7.3,8.4) (7.8,9.1) (8.3,8) (8.8,7.2) (9.3,8.2) (9.8,7.5) (10.3,8.6) (10.8,7.8) (11.3,9.8) (11.8,9) (12.3,8.2) (12.8,8.8) (13.3,7.6) (13.8,8.3) (14.3,7.2) (14.8,10.5) (15.3,9.6) (15.8,10.2) (16.3,9) (16.8,8.5) (17.3,9.3) (17.8,8) (18.3,7.2) (18.8,7.8) (19.3,6.8) (19.8,6.2) (20.3,7) (20.8,6) (21.3,5.4) (21.8,6.6) (22.3,5.8) (22.8,7.2) (23.3,6.2) (23.75,5.7)};
\addplot[gC] coordinates {(0,2) (0.5,1) (1,2.2) (1.5,1.2) (2,2.6) (2.5,1.6) (3,3) (3.5,2) (4,3.6) (4.5,5.2) (5,4.4) (5.5,6.6) (6,5.8) (6.5,7.4) (7,6.6) (7.5,8.2) (8,7.2) (8.5,6.4) (9,7.4) (9.5,6.4) (10,7.6) (10.5,6.6) (11,5.8) (11.5,6.8) (12,5.8) (12.5,7.2) (13,6.2) (13.5,5.2) (14,6.2) (14.5,5) (14.9,11) (15.3,10.2) (15.8,11.2) (16.3,10) (16.8,9.2) (17.3,10.2) (17.8,9) (18.3,8) (18.8,8.8) (19.3,7.6) (19.8,6.8) (20.3,7.6) (20.8,6.4) (21.3,5.6) (21.8,6.2) (22.3,5.2) (22.8,4.4) (23.3,5) (23.75,4.2)};
\addplot[gC] coordinates {(0,-0.5) (0.5,0.5) (1,-0.6) (1.5,0.4) (2,-0.8) (2.5,-1.8) (3,-1) (3.5,-2.2) (4,-1.2) (4.5,-2.4) (5,-1.4) (5.5,-2.6) (6,-1.6) (6.5,-2.8) (7,-1.8) (7.5,-3) (8,-2) (8.5,-0.8) (9,-1.8) (9.5,-0.6) (10,-1.6) (10.5,-0.4) (11,-1.4) (11.5,-0.2) (12,-1.2) (12.5,0) (13,-1) (13.5,-2) (14,-1) (14.5,-2.2) (15,-1.4) (15.5,-2.6) (16,-1.6) (16.5,-0.4) (17,-1.4) (17.5,-0.2) (18,-1.2) (18.5,0.2) (19,-0.8) (19.5,0.8) (20,-0.2) (20.5,1.6) (21,0.8) (21.5,2.2) (22,1.4) (22.5,3) (23,2.2) (23.2,4) (23.4,10.8) (23.75,12.5)};
\addplot[gC] coordinates {(0,1.5) (0.5,0.5) (1,1.2) (1.5,0) (2,0.8) (2.5,-0.4) (3,0.6) (3.5,-0.5) (4,0.9) (4.5,0) (5,1.3) (5.5,0.2) (6,1.5) (6.5,6.5) (7,5.8) (7.5,7) (8,6) (8.5,7.5) (9,6.5) (9.5,8) (10,7.2) (10.5,9) (11,8) (11.5,9.5) (12,8.5) (12.5,10.5) (13,9.5) (13.5,11) (14,10) (14.5,12) (15,11) (15.3,13) (15.6,12.5) (16.1,11.5) (16.4,15.4) (16.5,23.8) (17,22.5) (17.2,21.2) (17.9,20.4) (18.3,21) (18.6,20.6) (19.1,19.5) (19.6,20) (20,18.8) (20.4,22) (21.2,22) (21.5,21) (22.1,23) (22.5,22.3) (22.9,21.5) (23.2,18.3) (23.4,25.5) (23.6,26.4) (23.75,26)};
% blacks
\addplot[gK] coordinates {(0,0.5) (0.5,-0.5) (1,0.3) (1.5,-1) (2,-0.2) (2.5,-1.4) (3,-0.6) (3.5,-1.8) (4,-1) (4.5,-2.2) (5,-1.4) (5.5,-2.6) (6,-1.8) (6.5,-3) (7,-2.2) (7.5,-3.4) (8,-2.6) (8.5,-3.8) (9,-3) (9.5,-2) (10,-3) (10.5,-1.6) (11,-2.6) (11.5,-1.2) (12,-2.4) (12.5,-1.4) (13,-2.6) (13.5,-1.4) (14,-2.6) (14.5,-1.8) (15,-0.8) (15.4,-1.6) (15.6,1.5) (16,0.8) (16.5,1.8) (17,0.6) (17.5,1.3) (17.6,5.2) (18.2,4.6) (18.8,4.8) (19.4,4) (20.1,5.7) (20.6,6.8) (21.1,7.8) (21.5,8.1) (21.9,8.6) (22.2,12.2) (22.6,12.6) (23,11.5) (23.4,11.4) (23.75,12.2)};
\addplot[gK] coordinates {(0,1) (0.5,0) (1,0.8) (1.5,-0.4) (2,0.4) (2.5,-0.8) (3,0) (3.5,-1) (4,-0.2) (4.5,-1.4) (5,-0.6) (5.5,-1.6) (6,-0.8) (6.5,-2) (7,-1.2) (7.5,-2.4) (8,-1.6) (8.5,-1) (8.8,0.2) (9.1,5.7) (9.5,5.2) (10,4.4) (10.5,3.8) (11,2.6) (11.5,3.2) (12,2) (12.5,1.4) (13,2.2) (13.5,1.2) (14,0.4) (14.5,1.4) (15,0.6) (15.5,-0.4) (16,0.4) (16.5,-0.8) (17,0.2) (17.5,-0.6) (18,0.4) (18.5,-0.4) (19,0.8) (19.5,0) (20,1.2) (20.5,0.4) (21,1.8) (21.5,1) (21.8,2) (22.1,7.5) (22.5,6.8) (23,7.6) (23.3,8.5) (23.6,9.4) (23.75,10)};
\addplot[gK] coordinates {(0,0) (0.5,-1.5) (1,-2.6) (1.5,-4) (2,-5.8) (2.3,-7) (2.8,-6.5) (3.2,-6.8) (3.6,-5.5) (3.8,-1.6) (4.1,-2.4) (4.6,-3.6) (5.1,-3.1) (5.4,-4.2) (5.6,-0.8) (6,-1.6) (6.5,-3) (7,-4) (7.5,-3.4) (8,-4.8) (8.5,-5.5) (9,-4.8) (9.5,-6) (10,-5.2) (10.5,-6.4) (11,-7.2) (11.5,-6.4) (12,-7.6) (12.5,-8.4) (13,-7.6) (13.5,-8.8) (14,-8) (14.5,-8.8) (14.8,-2.5) (15.2,-1.8) (15.6,-3) (16,-2.4) (16.5,-3.4) (17,-2.6) (17.5,-3.8) (18,-3) (18.5,-4.2) (19,-3.4) (19.5,-4.6) (20,-3.8) (20.5,-5) (21,-4.2) (21.5,-5.4) (22,-4.6) (22.5,-5.6) (23,-5) (23.75,-6.2)};
% top blue and slate
\addplot[gS] coordinates {(0,2) (0.5,1) (1,0.5) (1.5,1.5) (2,1.5) (2.5,0.3) (3,0) (3.5,1) (4,1) (4.5,-0.2) (5,-0.5) (5.5,0.5) (6,0.5) (6.5,-0.6) (7,-1) (7.5,0) (8,0) (8.5,-1) (9,-1.5) (9.5,-0.5) (10,0) (10.5,1.2) (11,2) (11.5,1.5) (12,1) (12.4,2.5) (12.8,4) (13.2,3.4) (13.5,3) (13.8,6) (14,8) (14.4,14.4) (14.7,13.5) (15,17.3) (15.3,25) (15.7,24.5) (16.2,22.6) (16.9,22) (17.3,21.3) (17.8,19.9) (18.2,22.6) (18.5,22.8) (18.8,21.5) (19.1,24.5) (19.6,22.8) (20,24.8) (20.7,22) (20.9,24) (21.5,23.4) (22.1,23) (22.5,22.5) (22.9,21.9) (23.3,22.1) (23.75,21.2)};
\addplot[gB] coordinates {(0,1) (0.5,0) (1,1) (1.5,-0.5) (2,-1.5) (2.5,-0.5) (3,-0.5) (3.5,-1.8) (4,-2) (4.5,-1) (5,-1) (5.5,-2.2) (6,-2.5) (6.5,-1.5) (7,-1.5) (7.5,-2.8) (8,-3) (8.5,-2) (9,-2) (9.5,-3.2) (10,-3) (10.5,-1.6) (11,-1) (11.5,-2.2) (12,-2) (12.5,-0.8) (13,0) (13.5,-1.2) (14,-1) (14.5,0.2) (15,1) (15.5,-0.2) (16,0) (16.5,1.2) (17,2) (17.5,0.8) (17.8,1) (18.2,2.6) (18.5,3.5) (19,3) (19.6,5) (20.1,4.5) (20.2,14.8) (20.5,14) (20.8,15.5) (21.2,14.2) (21.6,13.3) (22,12.5) (22.2,26) (22.5,25) (22.8,24.8) (23.2,27.1) (23.4,26.2) (23.75,25.7)};
\end{axis}
\end{tikzpicture}
\end{document}
